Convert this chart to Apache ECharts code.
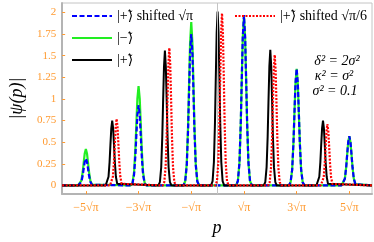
<!DOCTYPE html>
<html><head><meta charset="utf-8">
<script src="https://cdn.jsdelivr.net/npm/echarts@6/dist/echarts.min.js"></script>
<style>html,body{margin:0;padding:0;background:#fff}#c{width:374px;height:242px}</style>
</head><body><div id="c"></div>
<script>
// tick positions (units of sqrt(pi)) and labels
const xTicks = [-5, -3, -1, 1, 3, 5];
const xTickLabels = ['\u22125\u221A\u03C0', '\u22123\u221A\u03C0', '\u2212\u221A\u03C0', '\u221A\u03C0', '3\u221A\u03C0', '5\u221A\u03C0'];
const yTicks = [0, 0.25, 0.5, 0.75, 1, 1.25, 1.5, 1.75, 2];
const yTickLabels = ['0', '0.25', '0.5', '0.75', '1', '1.25', '1.5', '1.75', '2'];

// series names
const nameBlue = '|+\u0303\u27E9 shifted \u221A\u03C0';
const nameGreen = '|\u2212\u0303\u27E9';
const nameBlack = '|+\u0303\u27E9';
const nameRed = '|+\u0303\u27E9 shifted \u221A\u03C0/6';

// peak centres (units of sqrt(pi)) and heights
const greenCenters = [-5, -3, -1, 1, 3, 5];
const greenHeights = [0.42, 1.15, 1.89, 1.96, 1.35, 0.57];
const blueCenters = [-5, -3, -1, 1, 3, 5];
const blueHeights = [0.31, 0.93, 1.75, 1.97, 1.35, 0.57];
const blackCenters = [-4, -2, 0, 2, 4];
const blackHeights = [0.75, 1.56, 2.01, 1.57, 0.75];
const redCenters = [-3.833, -1.833, 0.167, 2.167, 4.167];
const redHeights = [0.77, 1.59, 1.99, 1.51, 0.71];

// peak profiles (offset from centre, relative height)
const wideOffsets = [-0.3, -0.23, -0.17, -0.12, -0.085, -0.045, 0, 0.045, 0.085, 0.12, 0.17, 0.23, 0.3];
const wideShape   = [0, 0.026, 0.135, 0.37, 0.61, 0.87, 1, 0.87, 0.61, 0.37, 0.135, 0.026, 0];
const narrowOffsets = [-0.25, -0.19, -0.14, -0.1, -0.07, -0.035, 0, 0.035, 0.07, 0.1, 0.14, 0.19, 0.25];
const narrowShape   = [0, 0.025, 0.135, 0.36, 0.61, 0.88, 1, 0.88, 0.61, 0.36, 0.135, 0.025, 0];

const xMin = -5.9, xMax = 5.86;

function build(centers, heights, offs, shape) {
  const d = [[xMin, 0]];
  centers.forEach((c, i) => {
    offs.forEach((o, j) => d.push([c + o, heights[i] * shape[j]]));
  });
  d.push([xMax, 0]);
  return d;
}

const orange = '#ff9a30';
const serif = '"Liberation Serif", "DejaVu Serif", serif';

const chart = echarts.init(document.getElementById('c'), null, {renderer: 'canvas'});
chart.setOption({
  animation: false,
  backgroundColor: '#fff',
  grid: {left: 57, top: 3, right: 2, bottom: 44, show: true, borderColor: '#c4c4c4', borderWidth: 1},
  xAxis: {
    type: 'value', min: xMin, max: xMax,
    name: 'p', nameLocation: 'middle', nameGap: 20,
    nameTextStyle: {fontFamily: serif, fontStyle: 'italic', fontSize: 18, color: '#000'},
    axisLine: {show: true, onZero: false, lineStyle: {color: '#b4b4b4', width: 2}},
    axisTick: {show: true, inside: true, length: 3, customValues: xTicks, lineStyle: {color: orange, width: 1}},
    axisLabel: {show: true, customValues: xTicks, margin: 8, color: orange, fontFamily: serif, fontSize: 12,
      formatter: v => xTickLabels[xTicks.indexOf(v)] || ''},
    splitLine: {show: false}
  },
  yAxis: {
    type: 'value', min: -0.1, max: 2.11,
    name: '|\u03C8(p)|', nameLocation: 'middle', nameGap: 34, nameRotate: 90,
    nameTextStyle: {fontFamily: serif, fontStyle: 'italic', fontSize: 18, color: '#000'},
    axisLine: {show: true, onZero: false, lineStyle: {color: '#b4b4b4', width: 2}},
    axisTick: {show: true, inside: true, length: 3, customValues: yTicks, lineStyle: {color: orange, width: 1}},
    axisLabel: {show: true, customValues: yTicks, margin: 6, color: orange, fontFamily: serif, fontSize: 11,
      formatter: v => { const i = yTicks.findIndex(t => Math.abs(t - v) < 1e-9); return i >= 0 ? yTickLabels[i] : ''; }},
    splitLine: {show: false}
  },
  legend: [
    {orient: 'vertical', left: 66, top: 4, itemWidth: 40, itemHeight: 12, itemGap: 8, itemStyle: {opacity: 0},
     data: [nameBlue, nameGreen, nameBlack],
     textStyle: {fontFamily: serif, fontSize: 14, color: '#000'}},
    {orient: 'vertical', left: 229, top: 4, itemWidth: 40, itemHeight: 12, itemGap: 8, itemStyle: {opacity: 0},
     data: [nameRed],
     textStyle: {fontFamily: serif, fontSize: 14, color: '#000'}}
  ],
  graphic: [
    {type: 'text', z: 10, position: [337, 61],
     style: {text: '\u03B4\u00B2 = 2\u03C3\u00B2', fontFamily: serif, fontStyle: 'italic', fontSize: 14, fill: '#000', textAlign: 'center', textVerticalAlign: 'middle'}},
    {type: 'text', z: 10, position: [334, 76],
     style: {text: '\u03BA\u00B2 = \u03C3\u00B2', fontFamily: serif, fontStyle: 'italic', fontSize: 14, fill: '#000', textAlign: 'center', textVerticalAlign: 'middle'}},
    {type: 'text', z: 10, position: [335, 91],
     style: {text: '\u03C3\u00B2 = 0.1', fontFamily: serif, fontStyle: 'italic', fontSize: 14, fill: '#000', textAlign: 'center', textVerticalAlign: 'middle'}}
  ],
  series: [
    {name: nameGreen, type: 'line', symbol: 'none', data: build(greenCenters, greenHeights, wideOffsets, wideShape),
     lineStyle: {color: '#22ee22', width: 2.2}, itemStyle: {color: '#22ee22'}, z: 2,
     markLine: {silent: true, symbol: 'none', label: {show: false}, lineStyle: {color: '#c4c4c4', width: 1, type: 'solid'}, data: [{xAxis: 0}]}},
    {name: nameBlue, type: 'line', symbol: 'none', data: build(blueCenters, blueHeights, wideOffsets, wideShape),
     lineStyle: {color: '#0000ff', width: 2.2, type: [5, 2.5]}, itemStyle: {color: '#0000ff'}, z: 3},
    {name: nameBlack, type: 'line', symbol: 'none', data: build(blackCenters, blackHeights, narrowOffsets, narrowShape),
     lineStyle: {color: '#000000', width: 2}, itemStyle: {color: '#000'}, z: 4},
    {name: nameRed, type: 'line', symbol: 'none', data: build(redCenters, redHeights, narrowOffsets, narrowShape),
     lineStyle: {color: '#ff0000', width: 2.2, type: [2, 1.5]}, itemStyle: {color: '#ff0000'}, z: 5}
  ]
});
</script></body></html>
